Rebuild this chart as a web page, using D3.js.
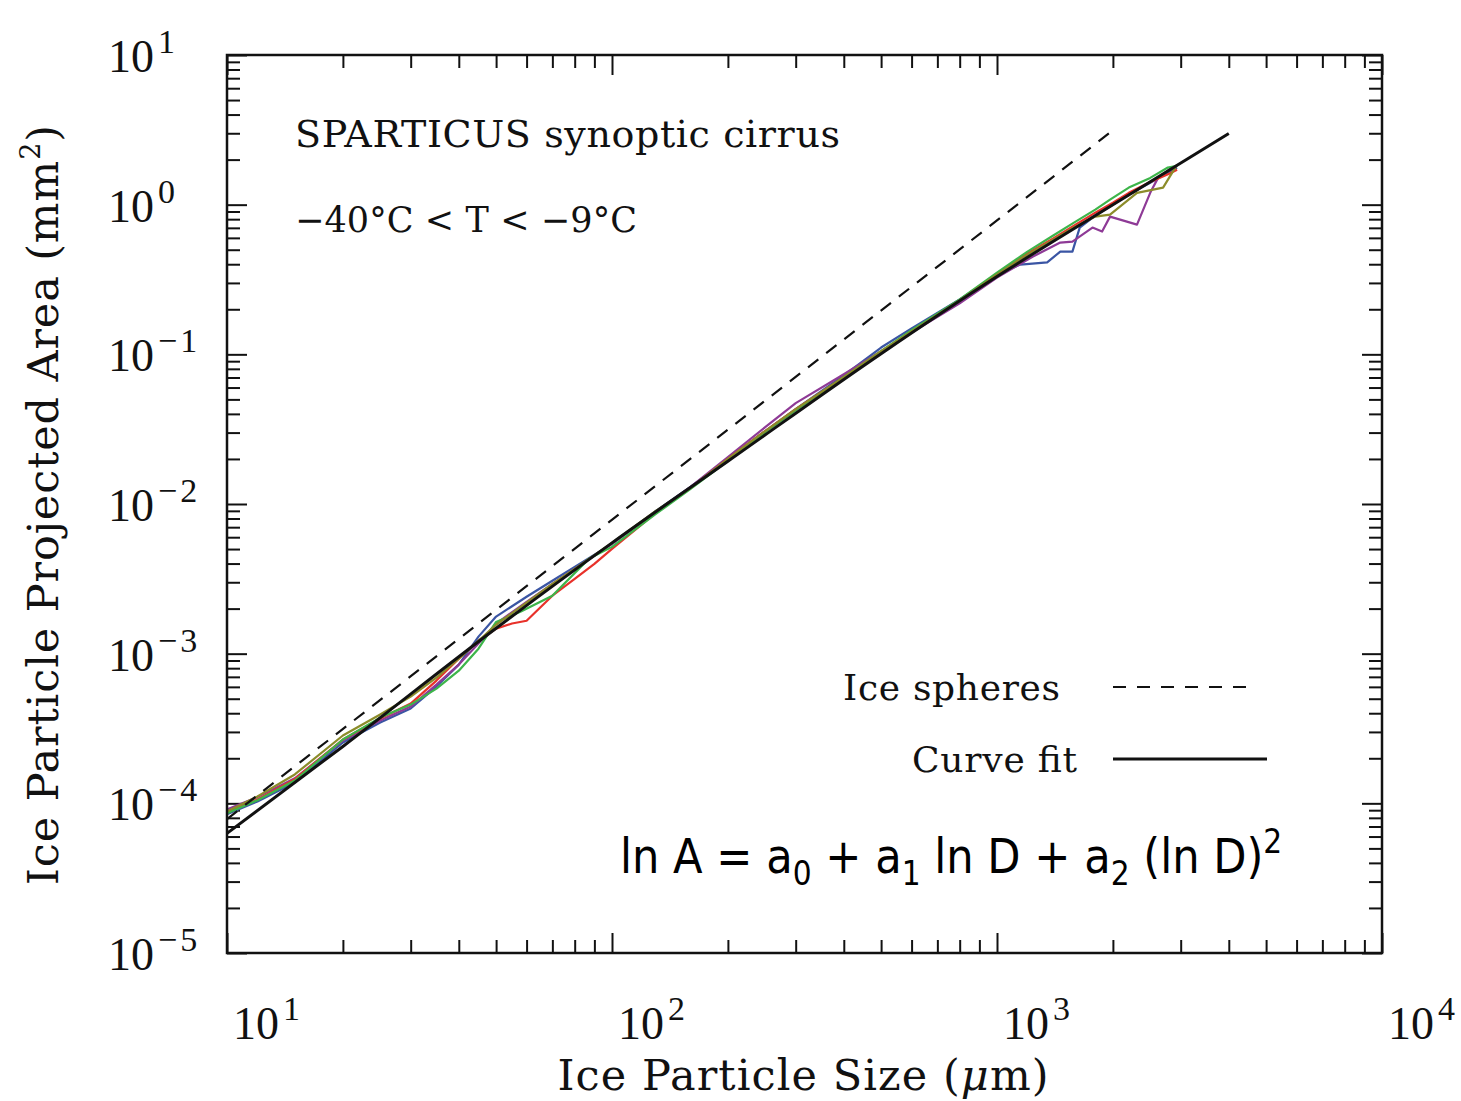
<!DOCTYPE html>
<html>
<head>
<meta charset="utf-8">
<script src="https://cdn.jsdelivr.net/npm/d3@7"></script>
<style>
  body { margin: 0; background: #fff; }
  svg { display: block; }
</style>
</head>
<body>
<svg id="chart" width="1461" height="1101"></svg>
<script>
// ---- data (D in um, A in mm^2) ----
var blueSize = [10,12,15,20,25,30,35,40,45,50,60,70,80,100,130,160,200,250,300,400,500,600,800,1000,1150,1350,1460,1570,1640,1800,2000,2200,2500,2800,2936];
var blueArea = [8.45e-5,1.03e-4,1.38e-4,2.55e-4,3.47e-4,4.30e-4,6.03e-4,8.45e-4,1.30e-3,1.77e-3,2.40e-3,3.07e-3,3.80e-3,5.41e-3,8.98e-3,1.30e-2,2.00e-2,3.07e-2,4.30e-2,7.24e-2,0.111,0.149,0.233,0.342,0.398,0.411,0.486,0.486,0.703,0.845,1.00,1.17,1.40,1.66,1.77];

var redSize = [10,12,15,20,25,30,35,40,45,50,55,60,70,80,90,100,130,160,200,250,300,400,500,600,800,1000,1200,1400,1600,1800,2000,2200,2500,2800,2936];
var redArea = [8.71e-5,1.06e-4,1.45e-4,2.67e-4,3.69e-4,4.64e-4,6.61e-4,9.26e-4,1.22e-3,1.47e-3,1.59e-3,1.66e-3,2.44e-3,3.16e-3,3.98e-3,5.01e-3,8.71e-3,1.28e-2,2.00e-2,3.07e-2,4.30e-2,7.03e-2,0.103,0.142,0.229,0.342,0.472,0.594,0.736,0.884,1.03,1.20,1.42,1.61,1.71];

var greenSize = [10,12,15,20,25,30,35,40,45,50,58,70,87,100,130,160,200,250,300,400,500,600,800,1000,1200,1400,1600,1800,1966,2200,2500,2778,2936];
var greenArea = [8.58e-5,1.05e-4,1.42e-4,2.67e-4,3.74e-4,4.57e-4,5.84e-4,7.70e-4,1.08e-3,1.63e-3,1.91e-3,2.44e-3,4.30e-3,5.17e-3,8.58e-3,1.26e-2,1.94e-2,3.02e-2,4.23e-2,7.03e-2,0.105,0.145,0.233,0.352,0.486,0.622,0.770,0.926,1.08,1.30,1.51,1.77,1.82];

var purpleSize = [10,12,15,20,25,30,35,40,45,50,60,70,80,100,130,160,200,250,300,400,500,600,800,1000,1240,1460,1570,1770,1875,1966,2310,2500,2620,2864];
var purpleArea = [9.12e-5,1.10e-4,1.47e-4,2.63e-4,3.58e-4,4.43e-4,6.21e-4,8.45e-4,1.17e-3,1.59e-3,2.22e-3,2.93e-3,3.69e-3,5.41e-3,8.85e-3,1.30e-2,2.06e-2,3.26e-2,4.72e-2,7.36e-2,0.105,0.140,0.219,0.326,0.450,0.558,0.567,0.703,0.661,0.832,0.736,1.20,1.51,1.79];

var oliveSize = [10,12,15,20,25,30,35,40,45,50,60,70,80,100,130,160,200,250,300,400,500,600,800,1000,1200,1400,1600,1800,1966,2310,2700,2936];
var oliveArea = [8.84e-5,1.11e-4,1.56e-4,2.84e-4,3.92e-4,5.17e-4,6.92e-4,9.26e-4,1.22e-3,1.56e-3,2.19e-3,2.93e-3,3.69e-3,5.50e-3,8.98e-3,1.28e-2,2.00e-2,3.07e-2,4.30e-2,7.03e-2,0.105,0.142,0.229,0.342,0.464,0.584,0.714,0.832,0.858,1.20,1.30,1.85];

var fitSize = [10,20,50,100,200,500,1000,2000,4000];
var fitArea = [6.31e-5,2.40e-4,1.48e-3,5.50e-3,1.93e-2,0.101,0.331,1.00,2.99];

var sphereSize = [10,2000];
var sphereArea = [7.85e-5,3.14];

var xTickExp = [1,2,3,4];
var yTickExp = [-5,-4,-3,-2,-1,0,1];

var series = [
  {name:"blue",   color:"#3a55a4", size:blueSize,   area:blueArea},
  {name:"purple", color:"#8e3a96", size:purpleSize, area:purpleArea},
  {name:"red",    color:"#e8312a", size:redSize,    area:redArea},
  {name:"green",  color:"#3db54a", size:greenSize,  area:greenArea},
  {name:"olive",  color:"#8c8c2a", size:oliveSize,  area:oliveArea}
];

// ---- layout ----
var plotLeft = 227, plotRight = 1382, plotTop = 55, plotBottom = 953;
var tickFont = "'Liberation Serif', 'Times New Roman', serif";
var textFont = "'DejaVu Serif', serif";

var svg = d3.select("#chart");

var x = d3.scaleLog().domain([10, 1e4]).range([plotLeft, plotRight]);
var y = d3.scaleLog().domain([1e-5, 10]).range([plotBottom, plotTop]);

function zip(s, a){ return s.map(function(d,i){ return [d, a[i]]; }); }

svg.append("defs").append("clipPath").attr("id","plotclip")
  .append("rect").attr("x",plotLeft).attr("y",plotTop)
  .attr("width",plotRight-plotLeft).attr("height",plotBottom-plotTop);

// minor / major tick values
var xMajor = [], xMinor = [], yMajor = [], yMinor = [];
for (var e = 1; e <= 4; e++) {
  xMajor.push(Math.pow(10,e));
  if (e < 4) for (var m = 2; m <= 9; m++) xMinor.push(m*Math.pow(10,e));
}
for (var e = -5; e <= 1; e++) {
  yMajor.push(Math.pow(10,e));
  if (e < 1) for (var m = 2; m <= 9; m++) yMinor.push(m*Math.pow(10,e));
}

function tickAxis(axisFn, scale, vals, len, transform){
  var g = svg.append("g").attr("transform", transform)
    .call(axisFn(scale).tickValues(vals).tickSizeInner(-len).tickSizeOuter(0).tickFormat(""));
  g.select(".domain").remove();
  g.selectAll(".tick line").attr("stroke","#111").attr("stroke-width",2);
}
tickAxis(d3.axisBottom, x, xMajor, 20, "translate(0," + plotBottom + ")");
tickAxis(d3.axisBottom, x, xMinor, 13, "translate(0," + plotBottom + ")");
tickAxis(d3.axisTop, x, xMajor, 20, "translate(0," + plotTop + ")");
tickAxis(d3.axisTop, x, xMinor, 13, "translate(0," + plotTop + ")");
tickAxis(d3.axisLeft, y, yMajor, 20, "translate(" + plotLeft + ",0)");
tickAxis(d3.axisLeft, y, yMinor, 13, "translate(" + plotLeft + ",0)");
tickAxis(d3.axisRight, y, yMajor, 20, "translate(" + plotRight + ",0)");
tickAxis(d3.axisRight, y, yMinor, 13, "translate(" + plotRight + ",0)");

// ---- lines ----
var line = d3.line().x(function(d){ return x(d[0]); }).y(function(d){ return y(d[1]); });
var plot = svg.append("g").attr("clip-path","url(#plotclip)");

series.forEach(function(s){
  plot.append("path").datum(zip(s.size, s.area))
    .attr("fill","none").attr("stroke", s.color).attr("stroke-width", 2.2)
    .attr("stroke-linejoin","round").attr("d", line);
});

plot.append("path").datum(zip(sphereSize, sphereArea))
  .attr("fill","none").attr("stroke","#111").attr("stroke-width",2.2)
  .attr("stroke-dasharray","13,10").attr("d", line);

plot.append("path").datum(zip(fitSize, fitArea))
  .attr("fill","none").attr("stroke","#111").attr("stroke-width",3)
  .attr("d", line.curve(d3.curveMonotoneX));

// frame
svg.append("rect").attr("x",plotLeft).attr("y",plotTop)
  .attr("width",plotRight-plotLeft).attr("height",plotBottom-plotTop)
  .attr("fill","none").attr("stroke","#111").attr("stroke-width",2.5);

// ---- tick labels ----
function powLabel(g, e, anchorX, baseY){
  var t = g.append("text").attr("x", anchorX).attr("y", baseY)
    .attr("font-family", tickFont).attr("font-size", 46).attr("fill","#111");
  t.append("tspan").text("10");
  if (e < 0) {
    t.append("tspan").attr("dy", -19).attr("dx", 4).attr("font-size", 34).text("\u2212");
    t.append("tspan").attr("dx", 3).attr("font-size", 34).text(String(-e));
  } else {
    t.append("tspan").attr("dy", -19).attr("dx", 4).attr("font-size", 34).text(String(e));
  }
}
var labels = svg.append("g");
xTickExp.forEach(function(e){ powLabel(labels, e, x(Math.pow(10,e)) + 6, 1039); });
yTickExp.forEach(function(e){ powLabel(labels, e, 108, y(Math.pow(10,e)) + 17); });

// axis titles
var xt = svg.append("text").attr("x", 803).attr("y", 1090).attr("text-anchor","middle")
  .attr("font-family", textFont).attr("font-size", 43).attr("fill","#111")
  .attr("textLength", 491).attr("lengthAdjust","spacing");
xt.append("tspan").text("Ice Particle Size (");
xt.append("tspan").attr("font-style","italic").text("\u03bc");
xt.append("tspan").text("m)");

var yt = svg.append("text").attr("transform","translate(58,505) rotate(-90)")
  .attr("text-anchor","middle").attr("font-family", textFont).attr("font-size", 43).attr("fill","#111")
  .attr("textLength", 760).attr("lengthAdjust","spacing");
yt.append("tspan").text("Ice Particle Projected Area (mm");
yt.append("tspan").attr("dy",-18).attr("font-size",27).text("2");
yt.append("tspan").attr("dy",18).text(")");

// annotations
svg.append("text").attr("x",295).attr("y",147).attr("font-family", textFont).attr("font-size",38)
  .attr("fill","#111").attr("textLength",545).attr("lengthAdjust","spacing")
  .text("SPARTICUS synoptic cirrus");
svg.append("text").attr("x",295).attr("y",232).attr("font-family", textFont).attr("font-size",35)
  .attr("fill","#111").attr("textLength",342).attr("lengthAdjust","spacing")
  .text("\u221240\u00b0C < T < \u22129\u00b0C");

// legend
svg.append("text").attr("x",843).attr("y",700).attr("font-family", textFont).attr("font-size",36)
  .attr("fill","#111").attr("textLength",217).attr("lengthAdjust","spacing").text("Ice spheres");
svg.append("line").attr("x1",1113).attr("x2",1257).attr("y1",687).attr("y2",687)
  .attr("stroke","#111").attr("stroke-width",2.2).attr("stroke-dasharray","13,11");
svg.append("text").attr("x",912).attr("y",772).attr("font-family", textFont).attr("font-size",36)
  .attr("fill","#111").attr("textLength",165).attr("lengthAdjust","spacing").text("Curve fit");
svg.append("line").attr("x1",1113).attr("x2",1267).attr("y1",759).attr("y2",759)
  .attr("stroke","#111").attr("stroke-width",3);

// formula
var ft = svg.append("text").attr("x",620).attr("y",873)
  .attr("font-family","'DejaVu Sans Condensed','DejaVu Sans',sans-serif").attr("font-size",48).attr("fill","#000");
ft.append("tspan").text("ln A = a");
ft.append("tspan").attr("dy",12).attr("font-size",33).text("0");
ft.append("tspan").attr("dy",-12).text(" + a");
ft.append("tspan").attr("dy",12).attr("font-size",33).text("1");
ft.append("tspan").attr("dy",-12).text(" ln D + a");
ft.append("tspan").attr("dy",12).attr("font-size",33).text("2");
ft.append("tspan").attr("dy",-12).text(" (ln D)");
ft.append("tspan").attr("dy",-20).attr("font-size",33).text("2");
</script>
</body>
</html>
